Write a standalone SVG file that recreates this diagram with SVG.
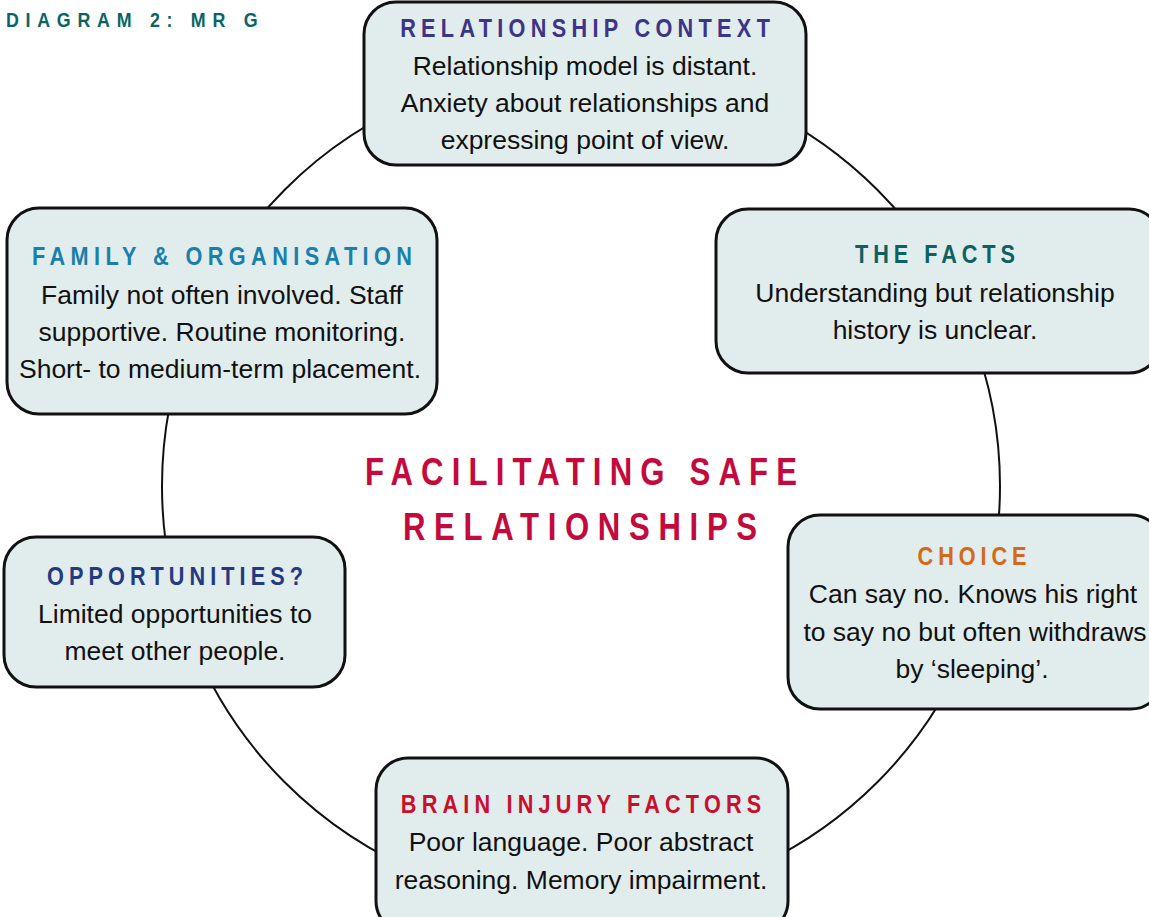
<svg xmlns="http://www.w3.org/2000/svg" width="1149" height="917" viewBox="0 0 1149 917">
<style>
.box{fill:#e1ecec;stroke:#111;stroke-width:3}
.ring{fill:none;stroke:#111;stroke-width:2}
.h{font-family:"Liberation Sans",Arial,sans-serif;font-weight:bold;font-size:25.5px;text-anchor:middle}
.b{font-family:"Liberation Sans",Arial,sans-serif;font-size:26.5px;fill:#111;text-anchor:middle}
.t{font-family:"Liberation Sans",Arial,sans-serif;font-weight:bold;font-size:38px;fill:#c40a3c;text-anchor:middle}
.d{font-family:"Liberation Sans",Arial,sans-serif;font-weight:bold;font-size:21px;fill:#0b6464}
</style>
<rect width="1149" height="917" fill="#fff"/>
<g id="connectors">
<circle class="ring" cx="581" cy="486" r="419"/>
</g>
<text id="diagram-label" class="d" transform="translate(6 27) scale(0.85 1)" textLength="296" lengthAdjust="spacing">DIAGRAM 2: MR G</text>
<g id="node-relationship-context">
<rect class="box" x="364" y="2" width="442" height="163" rx="32"/>
<text class="h" fill="#3d3486" transform="translate(585 37) scale(0.85 1)" textLength="435" lengthAdjust="spacing">RELATIONSHIP CONTEXT</text>
<text class="b" x="585" y="75">Relationship model is distant.</text>
<text class="b" x="585" y="112">Anxiety about relationships and</text>
<text class="b" x="585" y="149">expressing point of view.</text>
</g>
<g id="node-the-facts">
<rect class="box" x="716" y="209" width="445" height="164" rx="32"/>
<text class="h" fill="#0f6060" transform="translate(935 263) scale(0.85 1)" textLength="188" lengthAdjust="spacing">THE FACTS</text>
<text class="b" x="935" y="302">Understanding but relationship</text>
<text class="b" x="935" y="339">history is unclear.</text>
</g>
<g id="node-family-organisation">
<rect class="box" x="7" y="208" width="430" height="206" rx="32"/>
<text class="h" fill="#1a7faa" transform="translate(222 265) scale(0.85 1)" textLength="447" lengthAdjust="spacing">FAMILY &amp; ORGANISATION</text>
<text class="b" x="222" y="304">Family not often involved. Staff</text>
<text class="b" x="222" y="341">supportive. Routine monitoring.</text>
<text class="b" x="220" y="378">Short- to medium-term placement.</text>
</g>
<g id="node-choice">
<rect class="box" x="788" y="515" width="375" height="194" rx="32"/>
<text class="h" fill="#d4691a" transform="translate(972 565) scale(0.85 1)" textLength="128" lengthAdjust="spacing">CHOICE</text>
<text class="b" x="973" y="603">Can say no. Knows his right</text>
<text class="b" x="975" y="641">to say no but often withdraws</text>
<text class="b" x="972" y="678">by ‘sleeping’.</text>
</g>
<g id="node-opportunities">
<rect class="box" x="4" y="537" width="341" height="150" rx="32"/>
<text class="h" fill="#243a80" transform="translate(175 585) scale(0.85 1)" textLength="301" lengthAdjust="spacing">OPPORTUNITIES?</text>
<text class="b" x="175" y="623">Limited opportunities to</text>
<text class="b" x="175" y="660">meet other people.</text>
</g>
<g id="node-brain-injury-factors">
<rect class="box" x="376" y="758" width="412" height="175" rx="32"/>
<text class="h" fill="#c8102e" transform="translate(581 813) scale(0.85 1)" textLength="424" lengthAdjust="spacing">BRAIN INJURY FACTORS</text>
<text class="b" x="581" y="851">Poor language. Poor abstract</text>
<text class="b" x="581" y="889">reasoning. Memory impairment.</text>
</g>
<g id="node-centre">
<text class="t" transform="translate(581 485) scale(0.82 1)" textLength="527" lengthAdjust="spacing">FACILITATING SAFE</text>
<text class="t" transform="translate(580 540) scale(0.82 1)" textLength="432" lengthAdjust="spacing">RELATIONSHIPS</text>
</g>
</svg>
